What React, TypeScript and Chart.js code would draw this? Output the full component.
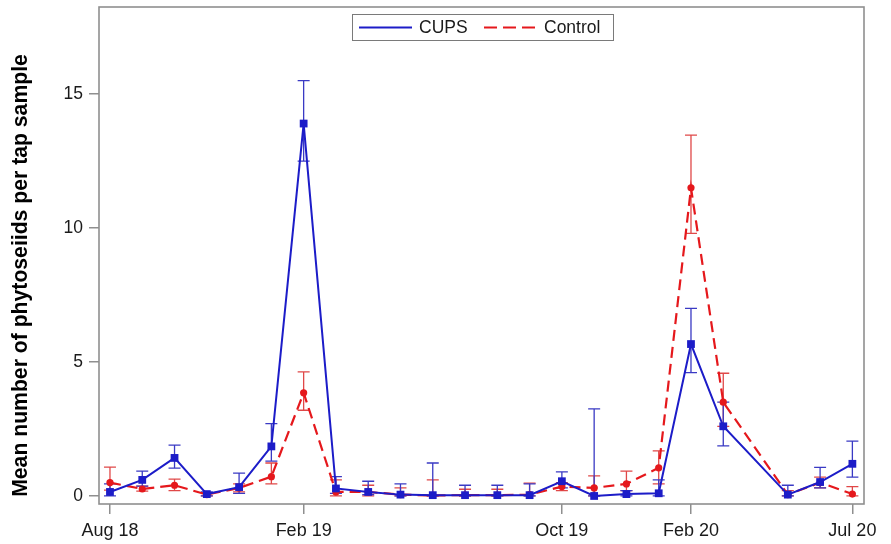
import React, { useEffect, useRef } from "react";
import { Chart, registerables } from "chart.js";

Chart.register(...registerables);

// months since Aug 2018 (no sample in month 20)
const months = [0, 1, 2, 3, 4, 5, 6, 7, 8, 9, 10, 11, 12, 13, 14, 15, 16, 17, 18, 19, 21, 22, 23];

const cupsMean = [0.15, 0.6, 1.42, 0.07, 0.33, 1.85, 13.9, 0.28, 0.15, 0.05, 0.03, 0.03, 0.03, 0.03, 0.55, 0.0, 0.07, 0.1, 5.67, 2.6, 0.05, 0.52, 1.2];
const cupsHigh = [0.45, 0.93, 1.9, 0.15, 0.85, 2.7, 15.5, 0.72, 0.55, 0.45, 1.23, 0.4, 0.4, 0.45, 0.9, 3.25, 0.2, 0.6, 7.0, 3.5, 0.4, 1.07, 2.05];
const cupsLow = [0.0, 0.37, 1.04, 0.0, 0.1, 1.3, 12.5, 0.1, 0.05, 0.0, 0.0, 0.0, 0.0, 0.0, 0.3, 0.0, 0.0, 0.0, 4.6, 1.87, 0.0, 0.3, 0.7];

const controlMean = [0.5, 0.26, 0.4, 0.05, 0.3, 0.72, 3.85, 0.15, 0.15, 0.05, 0.02, 0.03, 0.03, 0.05, 0.35, 0.3, 0.45, 1.05, 11.5, 3.5, 0.05, 0.5, 0.07];
const controlHigh = [1.08, 0.37, 0.63, 0.12, 0.45, 1.23, 4.63, 0.6, 0.4, 0.3, 0.6, 0.25, 0.25, 0.48, 0.5, 0.75, 0.93, 1.68, 13.47, 4.58, 0.2, 0.7, 0.35];
const controlLow = [0.22, 0.18, 0.2, 0.0, 0.15, 0.45, 3.2, 0.0, 0.0, 0.0, 0.0, 0.0, 0.0, 0.0, 0.2, 0.0, 0.2, 0.45, 9.8, 2.6, 0.0, 0.3, 0.0];

const tickMonths = [0, 6, 14, 18, 23];
const tickLabels = ["Aug 18", "Feb 19", "Oct 19", "Feb 20", "Jul 20"];
const yTickValues = [0, 5, 10, 15];

const seriesNames = ["CUPS", "Control"];
const yTitle = "Mean number of phytoseiids per tap sample";

const BLUE = "#1c1cc8";
const RED = "#e5181c";
const BLUE_ERR = "#3a3ac4";
const RED_ERR = "#e04848";
const FRAME = "#8f8f8f";
const FONT = "'Liberation Sans', Arial, sans-serif";

const errorSets = [
  { low: cupsLow, high: cupsHigh, color: BLUE_ERR },
  { low: controlLow, high: controlHigh, color: RED_ERR },
];

const errorBarPlugin = {
  id: "errorBars",
  beforeDatasetsDraw(chart: any) {
    const { ctx, scales } = chart;
    const xs = scales.x;
    const ys = scales.y;
    ctx.save();
    ctx.lineWidth = 1.3;
    const cap = 6;
    for (let s = errorSets.length - 1; s >= 0; s--) {
      const e = errorSets[s];
      ctx.strokeStyle = e.color;
      for (let i = 0; i < months.length; i++) {
        const x = xs.getPixelForValue(months[i]);
        const yl = ys.getPixelForValue(e.low[i]);
        const yh = ys.getPixelForValue(e.high[i]);
        ctx.beginPath();
        ctx.moveTo(x, yl);
        ctx.lineTo(x, yh);
        ctx.moveTo(x - cap, yh);
        ctx.lineTo(x + cap, yh);
        ctx.moveTo(x - cap, yl);
        ctx.lineTo(x + cap, yl);
        ctx.stroke();
      }
    }
    ctx.restore();
  },
};

const framePlugin = {
  id: "frameAndLegend",
  afterDraw(chart: any) {
    const { ctx, chartArea } = chart;
    ctx.save();
    ctx.strokeStyle = FRAME;
    ctx.lineWidth = 1.6;
    ctx.strokeRect(chartArea.left, chartArea.top, chartArea.right - chartArea.left, chartArea.bottom - chartArea.top);

    // y-axis title
    ctx.save();
    ctx.translate(21, 275.5);
    ctx.rotate(-Math.PI / 2);
    ctx.fillStyle = "#000000";
    ctx.font = `bold 21.2px ${FONT}`;
    ctx.textAlign = "center";
    ctx.textBaseline = "middle";
    ctx.fillText(yTitle, 0, 0);
    ctx.restore();

    // legend
    const bx = 352, by = 14, bw = 261, bh = 26;
    ctx.fillStyle = "#ffffff";
    ctx.fillRect(bx, by, bw, bh);
    ctx.strokeStyle = "#7a7a7a";
    ctx.lineWidth = 1;
    ctx.strokeRect(bx + 0.5, by + 0.5, bw, bh);
    const cy = by + bh / 2 + 0.5;
    ctx.lineWidth = 2;
    ctx.strokeStyle = BLUE;
    ctx.setLineDash([]);
    ctx.beginPath();
    ctx.moveTo(359, cy);
    ctx.lineTo(412, cy);
    ctx.stroke();
    ctx.strokeStyle = RED;
    ctx.lineWidth = 2.2;
    ctx.setLineDash([13, 6]);
    ctx.beginPath();
    ctx.moveTo(484, cy);
    ctx.lineTo(536, cy);
    ctx.stroke();
    ctx.setLineDash([]);
    ctx.fillStyle = "#1a1a1a";
    ctx.font = `17.5px ${FONT}`;
    ctx.textBaseline = "middle";
    ctx.textAlign = "left";
    ctx.fillText(seriesNames[0], 419, cy + 1);
    ctx.fillText(seriesNames[1], 544, cy + 1);
    ctx.restore();
  },
};

export default function App() {
  const ref = useRef<HTMLCanvasElement | null>(null);

  useEffect(() => {
    if (!ref.current) return;
    const chart = new Chart(ref.current, {
      type: "line",
      data: {
        datasets: [
          {
            label: seriesNames[0],
            data: months.map((m, i) => ({ x: m, y: cupsMean[i] })),
            borderColor: BLUE,
            backgroundColor: BLUE,
            borderWidth: 2,
            pointStyle: "rect",
            pointRadius: 5.5,
            pointBorderWidth: 0,
            tension: 0,
          },
          {
            label: seriesNames[1],
            data: months.map((m, i) => ({ x: m, y: controlMean[i] })),
            borderColor: RED,
            backgroundColor: RED,
            borderWidth: 2.2,
            borderDash: [11, 6],
            pointStyle: "circle",
            pointRadius: 3.6,
            pointBorderWidth: 0,
            tension: 0,
          },
        ],
      },
      options: {
        animation: false,
        responsive: false,
        maintainAspectRatio: false,
        layout: { padding: { top: 7, right: 27, bottom: 0, left: 0 } },
        plugins: {
          legend: { display: false },
          tooltip: { enabled: false },
        },
        scales: {
          x: {
            type: "linear",
            min: -0.34,
            max: 23.36,
            afterBuildTicks: (scale: any) => {
              scale.ticks = tickMonths.map((v) => ({ value: v }));
            },
            afterFit: (scale: any) => {
              scale.height = 40;
              scale.paddingLeft = 0;
              scale.paddingRight = 0;
            },
            ticks: {
              autoSkip: false,
              maxRotation: 0,
              padding: 6,
              color: "#1a1a1a",
              font: { family: FONT, size: 18 },
              callback: (v: any) => {
                const idx = tickMonths.indexOf(Number(v));
                return idx >= 0 ? tickLabels[idx] : "";
              },
            },
            grid: {
              display: true,
              drawOnChartArea: false,
              drawTicks: true,
              tickLength: 10,
              color: FRAME,
              lineWidth: 1.5,
            },
            border: { display: false },
          },
          y: {
            type: "linear",
            min: -0.3,
            max: 18.25,
            afterBuildTicks: (scale: any) => {
              scale.ticks = yTickValues.map((v) => ({ value: v }));
            },
            afterFit: (scale: any) => {
              scale.width = 99;
              scale.paddingTop = 0;
              scale.paddingBottom = 0;
            },
            ticks: {
              padding: 6,
              color: "#1a1a1a",
              font: { family: FONT, size: 17.5 },
              callback: (v: any) => String(v),
            },
            grid: {
              display: true,
              drawOnChartArea: false,
              drawTicks: true,
              tickLength: 10,
              color: FRAME,
              lineWidth: 1.5,
            },
            border: { display: false },
            title: { display: false },
          },
        },
      },
      plugins: [errorBarPlugin, framePlugin],
    } as any);
    return () => chart.destroy();
  }, []);

  return (
    <div style={{ position: "fixed", left: 0, top: 0, width: 891, height: 544, background: "#ffffff" }}>
      <canvas ref={ref} width={891} height={544} style={{ display: "block", width: 891, height: 544 }} />
    </div>
  );
}
